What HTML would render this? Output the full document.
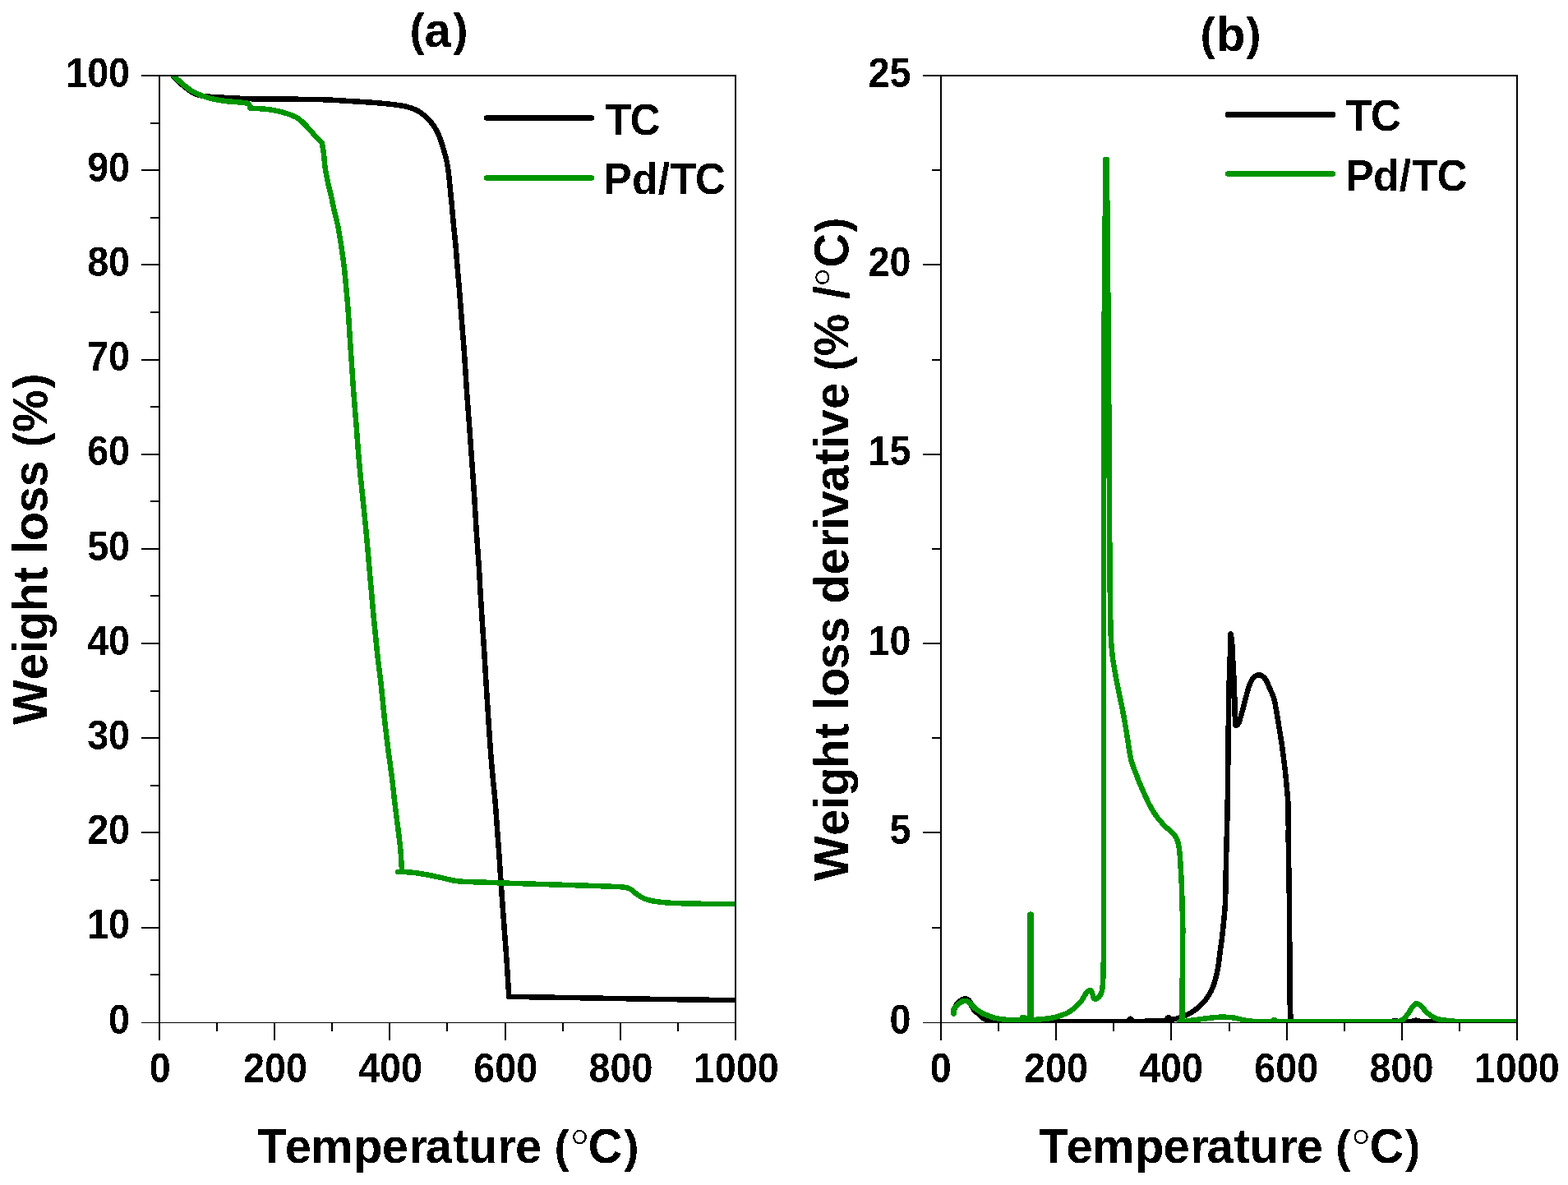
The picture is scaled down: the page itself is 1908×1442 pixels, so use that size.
<!DOCTYPE html>
<html lang="en"><head><meta charset="utf-8"><title>TGA and DTG curves of TC and Pd/TC</title>
<style>
html,body{margin:0;padding:0;background:#fff;}
body{width:1908px;height:1442px;overflow:hidden;}
svg{display:block;}
text{font-family:"Liberation Sans",Arial,Helvetica,sans-serif;font-weight:bold;fill:#000;font-kerning:none;}
.tk{font-size:46.7px;}
.lg{font-size:51.4px;}
.ti{font-size:58px;}
.ax{font-size:58px;}
.deg{font-family:"Noto Serif CJK SC","Liberation Serif",serif;font-weight:normal;font-size:64px;}
.pr{font-size:54.9px;}
.crv{shape-rendering:crispEdges;fill:none;stroke-width:6.5;stroke-linejoin:round;stroke-linecap:round;}
.axl{fill:#000;shape-rendering:crispEdges;}
</style></head><body>
<svg width="1908" height="1442" viewBox="0 0 1908 1442">
<rect width="1908" height="1442" fill="#fff"/>
<defs>
<clipPath id="ca"><rect x="195" y="93" width="699" height="1151"/></clipPath>
<clipPath id="cb"><rect x="1146" y="93" width="699" height="1151"/></clipPath>
<filter id="bin" filterUnits="userSpaceOnUse" x="0" y="0" width="1908" height="1442" color-interpolation-filters="sRGB"><feComponentTransfer><feFuncA type="discrete" tableValues="0 1"/></feComponentTransfer></filter>
</defs>
<g id="figure" filter="url(#bin)">
<g id="plot-a">
<g clip-path="url(#ca)">
<path class="crv" stroke="#000" d="M210.8,92.8C214.5,96.3 218.0,100.1 221.9,103.4C225.2,106.2 228.6,108.9 232.2,111.3C234.3,112.7 236.6,113.9 239.0,114.8C241.2,115.7 243.6,116.2 246.0,116.6C248.6,117.1 251.3,117.4 254.0,117.6C262.0,118.2 270.0,118.6 278.0,119.0C286.4,119.4 294.8,120.0 303.2,120.2C315.8,120.5 328.3,120.5 340.9,120.6C353.5,120.7 366.1,120.7 378.7,120.9C385.8,121.0 392.9,121.2 400.0,121.5C408.4,121.9 416.8,122.5 425.2,123.0C433.6,123.5 441.9,124.0 450.3,124.6C458.7,125.2 467.1,125.8 475.5,126.8C481.8,127.5 488.1,128.3 494.3,129.7C498.6,130.7 502.9,132.1 506.9,134.1C510.6,135.9 513.9,138.3 517.0,141.0C520.3,143.8 523.2,147.0 525.8,150.4C528.2,153.5 530.3,156.9 532.1,160.5C534.1,164.5 535.6,168.8 537.1,173.1C538.5,177.2 539.7,181.4 540.9,185.6C542.0,189.8 543.2,194.0 544.0,198.2C544.8,202.4 545.4,206.6 545.9,210.8C546.4,215.0 546.8,219.2 547.2,223.4C547.6,227.6 548.0,231.7 548.4,235.9C548.8,240.1 549.3,244.3 549.7,248.5C550.5,257.4 551.3,266.3 552.1,275.2C552.9,283.6 553.9,291.9 554.6,300.3C555.4,308.7 555.9,317.1 556.6,325.5C557.3,333.9 558.1,342.2 558.8,350.6C559.5,359.0 560.1,367.4 560.8,375.8C561.4,384.2 562.1,392.5 562.7,400.9C563.4,409.3 564.1,417.7 564.7,426.1C565.3,434.5 565.8,442.9 566.4,451.3C566.9,459.7 567.4,468.0 568.0,476.4C569.1,491.6 570.3,506.7 571.4,521.9C572.4,535.9 573.4,549.9 574.4,563.9C575.4,577.9 576.4,591.8 577.3,605.8C578.2,619.8 578.9,633.7 579.8,647.7C580.7,661.7 581.9,675.6 582.8,689.6C583.5,699.7 583.9,709.7 584.5,719.8C585.1,730.5 585.8,741.2 586.5,751.9C587.4,765.9 588.4,779.9 589.3,793.9C590.2,807.9 590.9,821.8 591.8,835.8C592.7,849.8 593.6,863.7 594.5,877.7C595.4,891.7 596.3,905.6 597.4,919.6C598.0,928.1 598.8,936.5 599.6,945.0C600.5,954.5 601.6,964.0 602.4,973.5C603.4,984.7 604.1,995.9 604.9,1007.1C605.7,1018.3 606.6,1029.4 607.4,1040.6C608.2,1051.8 608.8,1063.0 609.6,1074.2C610.4,1085.4 611.2,1096.5 612.0,1107.7C612.8,1118.9 613.7,1130.1 614.5,1141.3C615.3,1152.3 616.2,1163.2 616.9,1174.2C617.8,1187.1 618.5,1200.0 619.3,1212.9C628.6,1213.0 637.8,1213.2 647.1,1213.3C669.5,1213.7 691.8,1214.0 714.2,1214.4C736.6,1214.8 758.9,1215.2 781.3,1215.6C803.6,1216.0 826.0,1216.3 848.3,1216.6C863.9,1216.8 879.4,1216.9 895.0,1217.1"/>
<path class="crv" stroke="#009500" d="M211.4,92.5C215.2,95.9 218.8,99.4 222.7,102.6C226.0,105.3 229.2,108.1 232.8,110.3C235.9,112.3 239.4,113.8 242.8,115.2C246.9,116.9 251.1,118.5 255.4,119.6C260.8,121.0 266.3,121.9 271.8,122.7C277.2,123.5 282.7,123.7 288.1,124.2C292.5,124.6 296.8,125.1 301.2,125.6C302.1,126.5 303.2,127.3 303.8,128.4C304.3,129.4 304.1,130.5 304.3,131.6C308.1,131.8 312.0,131.9 315.8,132.2C320.0,132.5 324.2,132.8 328.4,133.4C332.6,134.0 336.8,134.9 340.9,135.9C345.2,137.0 349.4,138.1 353.5,139.7C357.0,141.1 360.5,142.5 363.6,144.7C366.9,147.0 369.6,150.0 372.4,152.9C375.9,156.5 379.1,160.5 382.5,164.2C385.6,167.6 388.8,170.9 391.9,174.3C392.5,178.1 393.3,181.8 393.8,185.6C394.6,191.9 394.8,198.2 395.7,204.5C396.5,210.0 397.6,215.4 398.8,220.8C400.3,228.0 402.2,235.0 403.8,242.2C404.4,244.8 404.7,247.4 405.3,250.0C407.2,258.4 409.5,266.7 411.2,275.2C412.9,283.5 414.1,291.9 415.4,300.3C416.7,308.7 417.8,317.1 418.8,325.5C419.8,333.9 420.5,342.2 421.3,350.6C422.1,359.0 422.9,367.4 423.5,375.8C424.1,384.2 424.6,392.5 425.1,400.9C425.7,409.3 426.2,417.7 426.8,426.1C427.4,434.5 427.9,442.9 428.5,451.3C429.1,459.7 429.6,468.0 430.2,476.4C431.4,491.6 432.7,506.7 433.9,521.9C435.0,535.9 435.9,549.9 437.2,563.9C438.4,577.9 440.0,591.8 441.4,605.8C442.8,619.8 444.3,633.7 445.6,647.7C446.9,661.7 448.1,675.6 449.3,689.6C450.0,698.1 450.8,706.5 451.5,715.0C452.6,727.3 453.6,739.6 454.8,751.9C456.1,765.9 457.5,779.9 459.0,793.9C460.5,807.9 462.5,821.8 464.0,835.8C465.5,849.8 466.7,863.7 468.2,877.7C469.8,891.7 471.5,905.6 473.3,919.6C474.4,928.1 475.7,936.5 476.8,945.0C478.0,954.5 478.9,964.0 480.0,973.5C481.3,984.7 482.8,995.9 484.2,1007.1C485.2,1015.5 486.4,1023.8 487.2,1032.2C488.0,1040.6 488.3,1049.0 488.9,1057.4L489.0,1060.6L484.3,1060.9L489.0,1061.0C493.0,1061.2 497.0,1061.2 500.9,1061.6C506.5,1062.2 512.1,1063.1 517.7,1064.1C523.3,1065.1 528.9,1066.3 534.5,1067.5C541.8,1069.0 548.9,1071.3 556.3,1072.2C565.7,1073.3 575.3,1073.1 584.8,1073.5C596.0,1074.0 607.1,1074.3 618.3,1074.7C627.9,1075.0 637.5,1075.3 647.1,1075.6C669.5,1076.3 691.8,1077.0 714.2,1077.7C725.4,1078.1 736.5,1078.4 747.7,1078.9C752.2,1079.1 756.7,1079.2 761.1,1079.9C763.4,1080.3 765.8,1081.1 767.8,1082.3C770.3,1083.8 772.2,1086.1 774.5,1087.8C776.7,1089.4 778.9,1091.1 781.3,1092.3C783.9,1093.6 786.8,1094.5 789.6,1095.3C792.3,1096.1 795.2,1096.6 798.0,1097.0C803.6,1097.8 809.2,1098.4 814.8,1098.7C826.0,1099.3 837.1,1099.5 848.3,1099.7C863.9,1100.0 879.4,1099.9 895.0,1100.0"/>
</g>
<rect class="axl" x="193" y="91" width="2" height="1175"/>
<rect class="axl" x="894" y="91" width="2" height="1175"/>
<rect class="axl" x="172" y="91" width="724" height="2"/>
<rect class="axl" x="172" y="1244" width="724" height="1"/>
<rect class="axl" x="263" y="1245" width="2" height="10"/>
<rect class="axl" x="333" y="1245" width="2" height="21"/>
<rect class="axl" x="403" y="1245" width="2" height="10"/>
<rect class="axl" x="473" y="1245" width="2" height="21"/>
<rect class="axl" x="543" y="1245" width="2" height="10"/>
<rect class="axl" x="614" y="1245" width="2" height="21"/>
<rect class="axl" x="684" y="1245" width="2" height="10"/>
<rect class="axl" x="754" y="1245" width="2" height="21"/>
<rect class="axl" x="824" y="1245" width="2" height="10"/>
<rect class="axl" x="183" y="1185" width="10" height="2"/>
<rect class="axl" x="172" y="1128" width="21" height="2"/>
<rect class="axl" x="183" y="1070" width="10" height="2"/>
<rect class="axl" x="172" y="1012" width="21" height="2"/>
<rect class="axl" x="183" y="955" width="10" height="2"/>
<rect class="axl" x="172" y="897" width="21" height="2"/>
<rect class="axl" x="183" y="840" width="10" height="2"/>
<rect class="axl" x="172" y="782" width="21" height="2"/>
<rect class="axl" x="183" y="724" width="10" height="2"/>
<rect class="axl" x="172" y="667" width="21" height="2"/>
<rect class="axl" x="183" y="609" width="10" height="2"/>
<rect class="axl" x="172" y="552" width="21" height="2"/>
<rect class="axl" x="183" y="494" width="10" height="2"/>
<rect class="axl" x="172" y="437" width="21" height="2"/>
<rect class="axl" x="183" y="379" width="10" height="2"/>
<rect class="axl" x="172" y="321" width="21" height="2"/>
<rect class="axl" x="183" y="264" width="10" height="2"/>
<rect class="axl" x="172" y="206" width="21" height="2"/>
<rect class="axl" x="183" y="149" width="10" height="2"/>
<text class="tk" transform="translate(158.1,1257.5) scale(1,1.05)" text-anchor="end">0</text>
<text class="tk" transform="translate(158.1,1142.3) scale(1,1.05)" text-anchor="end">10</text>
<text class="tk" transform="translate(158.1,1027.1) scale(1,1.05)" text-anchor="end">20</text>
<text class="tk" transform="translate(158.1,911.9) scale(1,1.05)" text-anchor="end">30</text>
<text class="tk" transform="translate(158.1,796.7) scale(1,1.05)" text-anchor="end">40</text>
<text class="tk" transform="translate(158.1,681.5) scale(1,1.05)" text-anchor="end">50</text>
<text class="tk" transform="translate(158.1,566.3) scale(1,1.05)" text-anchor="end">60</text>
<text class="tk" transform="translate(158.1,451.1) scale(1,1.05)" text-anchor="end">70</text>
<text class="tk" transform="translate(158.1,335.9) scale(1,1.05)" text-anchor="end">80</text>
<text class="tk" transform="translate(158.1,220.7) scale(1,1.05)" text-anchor="end">90</text>
<text class="tk" transform="translate(158.1,105.5) scale(1,1.05)" text-anchor="end">100</text>
<text class="tk" transform="translate(194.7,1316.6) scale(1,1.05)" text-anchor="middle">0</text>
<text class="tk" transform="translate(334.9,1316.6) scale(1,1.05)" text-anchor="middle">200</text>
<text class="tk" transform="translate(475.1,1316.6) scale(1,1.05)" text-anchor="middle">400</text>
<text class="tk" transform="translate(615.3,1316.6) scale(1,1.05)" text-anchor="middle">600</text>
<text class="tk" transform="translate(755.5,1316.6) scale(1,1.05)" text-anchor="middle">800</text>
<text class="tk" transform="translate(895.7,1316.6) scale(1,1.05)" text-anchor="middle">1000</text>
<text class="ti" transform="translate(0,56.5) scale(1,1.015)"><tspan class="pr" x="498.6" y="-1.7">(</tspan><tspan x="516.6" y="0">a</tspan><tspan class="pr" x="551.2" y="-1.7">)</tspan></text>
<text class="ax" transform="translate(0.0,1415.3) scale(1,1.015)"><tspan x="313.2 346.7 378.1 430.1 464.8 497.7 517.8 550.9 569.9 605.6 626.9 636.9" y="0">Temperature </tspan><tspan class="pr" x="674.5" y="-1.4">(</tspan><tspan class="deg" x="694.5" y="7.7">°</tspan><tspan x="715.6" y="0">C</tspan><tspan class="pr" x="759.2" y="-1.4">)</tspan></text>
<text class="ax" transform="translate(57.2,881.0) rotate(-90) scale(1,1.015)"><tspan x="-1.0 53.7 86.1 101.5 136.6 171.9 181.9 207.1 222.8 257.1 288.4 298.4" y="0">Weight loss </tspan><tspan class="pr" x="336.7" y="-1.4">(</tspan><tspan x="354.9" y="0">%</tspan><tspan class="pr" x="408.2" y="-1.4">)</tspan></text>
<line x1="592" y1="143.5" x2="720" y2="143.5" stroke="#000" stroke-width="6.6" stroke-linecap="round"/>
<line x1="592" y1="216.5" x2="720" y2="216.5" stroke="#009500" stroke-width="6.6" stroke-linecap="round"/>
<text class="lg" transform="translate(0,164.0) scale(1,1.04)" x="736.8 766.6" y="0">TC</text>
<text class="lg" transform="translate(0,235.9) scale(1,1.04)" x="734.6 769.0 800.8 815.8 845.8" y="0">Pd/TC</text>
</g>
<g id="plot-b">
<g clip-path="url(#cb)">
<path class="crv" stroke="#000" d="M1161.3,1228.5C1162.0,1226.7 1162.5,1224.9 1163.5,1223.2C1164.3,1221.9 1165.4,1220.7 1166.5,1219.6C1167.7,1218.5 1168.9,1217.4 1170.3,1216.6C1171.6,1215.9 1173.1,1215.2 1174.6,1215.2C1175.8,1215.2 1177.0,1215.9 1178.0,1216.6C1179.1,1217.4 1179.9,1218.4 1180.6,1219.5C1181.4,1220.8 1181.6,1222.3 1182.2,1223.6C1183.2,1225.6 1184.1,1227.7 1185.5,1229.5C1186.5,1230.8 1188.2,1231.6 1189.4,1232.7C1190.9,1234.0 1192.1,1235.6 1193.6,1236.9C1194.8,1237.9 1196.0,1238.9 1197.4,1239.7C1198.7,1240.5 1200.1,1241.1 1201.6,1241.5C1203.7,1242.1 1205.8,1242.7 1207.9,1242.8C1221.9,1243.3 1236.0,1243.2 1250.0,1243.3C1266.7,1243.4 1283.3,1243.3 1300.0,1243.3C1313.3,1243.3 1326.7,1243.2 1340.0,1243.2C1353.3,1243.1 1366.7,1243.1 1380.0,1243.0C1386.7,1242.9 1393.3,1242.8 1400.0,1242.6C1405.0,1242.5 1410.0,1242.3 1415.0,1242.0C1418.0,1241.8 1421.0,1241.4 1424.0,1241.0C1426.7,1240.6 1429.5,1240.4 1432.1,1239.6C1436.4,1238.3 1440.6,1236.5 1444.7,1234.6C1447.8,1233.2 1450.8,1231.6 1453.5,1229.6C1457.1,1227.0 1460.5,1224.0 1463.5,1220.8C1466.4,1217.7 1468.9,1214.3 1471.1,1210.7C1473.1,1207.5 1474.7,1204.1 1476.1,1200.6C1477.7,1196.5 1478.8,1192.3 1479.9,1188.1C1480.9,1183.9 1481.7,1179.7 1482.4,1175.5C1483.4,1169.2 1484.1,1162.9 1484.9,1156.6C1485.7,1150.3 1486.7,1144.0 1487.4,1137.7C1488.1,1131.4 1488.7,1125.2 1489.3,1118.9C1489.9,1112.6 1490.7,1106.3 1490.9,1100.0C1491.6,1082.4 1491.6,1064.7 1492.0,1047.1C1492.3,1035.9 1492.6,1024.7 1492.9,1013.5C1493.2,1002.3 1493.5,991.2 1493.7,980.0C1494.1,955.9 1494.2,931.8 1494.5,907.7C1494.8,885.3 1494.9,863.0 1495.4,840.6C1495.8,823.8 1496.5,807.1 1497.1,790.3C1497.3,784.4 1496.8,766.9 1497.9,772.7C1500.1,784.0 1499.7,795.6 1500.4,807.1C1501.1,818.3 1501.7,829.4 1502.1,840.6C1502.5,851.8 1502.2,863.0 1502.9,874.2C1503.1,877.1 1501.8,883.3 1504.6,882.6C1508.2,881.7 1508.3,876.0 1509.6,872.5C1511.7,866.5 1513.0,860.2 1514.7,854.0C1516.4,847.9 1517.6,841.6 1519.7,835.6C1520.9,832.1 1522.2,828.3 1524.7,825.5C1526.6,823.3 1529.4,821.1 1532.3,821.3C1535.3,821.5 1537.9,824.0 1539.8,826.4C1542.3,829.6 1543.3,833.6 1544.9,837.3C1546.6,841.2 1548.7,844.9 1549.9,849.0C1551.5,854.5 1552.3,860.2 1553.3,865.8C1554.5,872.5 1555.5,879.2 1556.6,885.9C1557.8,893.2 1559.0,900.4 1560.0,907.7C1561.2,916.1 1562.3,924.5 1563.3,932.9C1564.3,941.3 1565.1,949.6 1565.8,958.0C1566.5,965.3 1567.3,972.5 1567.5,979.8C1568.0,996.6 1567.6,1013.5 1567.8,1030.3C1568.0,1047.1 1568.5,1063.8 1568.7,1080.6C1568.9,1097.4 1569.1,1114.1 1569.2,1130.9C1569.4,1160.5 1569.3,1190.2 1569.7,1219.8C1569.8,1227.6 1570.4,1235.4 1570.8,1243.2C1613.9,1243.2 1656.9,1243.2 1700.0,1243.2C1748.7,1243.2 1797.3,1243.2 1846.0,1243.2M1372.5,1242.5C1373.5,1241.5 1374.1,1239.6 1375.5,1239.6C1376.9,1239.6 1377.5,1241.5 1378.5,1242.5M1419.0,1241.5C1420.0,1240.3 1420.5,1238.1 1422.0,1238.0C1423.4,1237.9 1424.0,1240.0 1425.0,1241.0M1695.0,1242.6C1695.8,1242.4 1696.6,1242.0 1697.5,1242.0C1698.4,1242.0 1699.2,1242.4 1700.0,1242.6M1719.0,1242.6C1720.3,1242.3 1721.6,1241.6 1723.0,1241.6C1724.4,1241.6 1725.7,1242.3 1727.0,1242.6"/>
<path class="crv" stroke="#009500" d="M1160.5,1233.7L1160.5,1228.2C1161.5,1227.0 1162.4,1225.7 1163.4,1224.6C1164.6,1223.3 1165.8,1222.1 1167.2,1221.0C1168.4,1220.1 1169.8,1219.2 1171.2,1218.6C1172.3,1218.2 1173.6,1217.9 1174.8,1218.0C1176.1,1218.1 1177.5,1218.6 1178.6,1219.4C1180.2,1220.5 1181.3,1222.0 1182.7,1223.3C1184.1,1224.6 1185.4,1226.1 1186.9,1227.3C1188.2,1228.4 1189.7,1229.3 1191.1,1230.3C1192.5,1231.2 1193.8,1232.1 1195.3,1232.9C1196.7,1233.6 1198.1,1234.2 1199.5,1234.8C1202.3,1235.9 1205.0,1237.1 1207.9,1238.0C1210.6,1238.8 1213.5,1239.4 1216.3,1239.9C1219.1,1240.4 1221.9,1240.6 1224.7,1240.8C1230.0,1241.1 1235.3,1241.4 1240.6,1241.5C1243.1,1241.6 1245.7,1241.5 1248.2,1241.4C1249.7,1241.3 1252.5,1242.5 1252.6,1241.0C1254.3,1198.4 1252.5,1155.7 1253.2,1113.0C1253.2,1112.5 1254.6,1112.5 1254.6,1113.0C1255.3,1155.7 1253.6,1198.4 1255.2,1241.0C1255.3,1242.4 1258.1,1241.0 1259.5,1240.9C1265.8,1240.4 1272.2,1240.0 1278.4,1239.0C1282.6,1238.3 1286.8,1237.2 1290.9,1235.8C1294.4,1234.6 1297.8,1233.3 1301.0,1231.4C1304.2,1229.5 1307.0,1227.0 1309.8,1224.5C1312.1,1222.4 1314.2,1220.1 1316.1,1217.6C1318.0,1215.0 1319.1,1211.9 1321.1,1209.4C1322.5,1207.6 1324.0,1205.0 1326.2,1205.0C1328.0,1205.0 1328.5,1207.8 1329.3,1209.4C1330.2,1211.2 1330.2,1213.4 1331.2,1215.1C1331.5,1215.7 1332.5,1215.9 1333.1,1215.7C1334.7,1215.2 1336.4,1214.5 1337.5,1213.2C1339.0,1211.4 1339.9,1209.1 1340.6,1206.9C1341.4,1204.1 1341.7,1201.1 1341.9,1198.1C1342.5,1188.5 1342.7,1178.8 1342.8,1169.2C1343.1,1146.1 1343.1,1123.1 1343.1,1100.0C1343.2,966.7 1343.2,833.3 1343.2,700.0C1343.2,618.3 1342.9,536.7 1343.2,455.0C1343.4,403.3 1344.1,351.7 1344.5,300.0C1344.8,264.7 1345.0,229.5 1345.2,194.2L1346.8,194.2C1347.5,273.1 1348.3,352.1 1348.9,431.0C1349.3,478.0 1349.4,525.0 1349.7,572.0C1350.0,617.3 1350.2,662.7 1350.6,708.0C1350.7,718.7 1350.9,729.3 1351.1,740.0C1351.3,751.2 1351.2,762.3 1351.7,773.5C1352.1,781.9 1352.7,790.3 1353.7,798.7C1354.7,807.2 1356.4,815.5 1357.9,823.9C1359.4,832.3 1361.2,840.6 1362.9,849.0C1364.6,857.4 1366.4,865.8 1367.9,874.2C1369.4,882.5 1370.7,890.9 1372.1,899.3C1373.5,907.7 1374.3,916.2 1376.3,924.5C1377.7,930.3 1380.1,935.7 1382.2,941.3C1384.3,946.9 1386.5,952.5 1388.9,958.0C1392.1,965.3 1395.3,972.7 1399.0,979.8C1401.4,984.5 1404.2,989.1 1407.3,993.4C1410.3,997.6 1413.8,1001.5 1417.4,1005.2C1420.0,1007.9 1423.2,1010.0 1425.8,1012.7C1428.0,1015.0 1430.4,1017.3 1431.7,1020.2C1433.6,1024.4 1434.4,1029.1 1435.0,1033.7C1436.0,1040.9 1436.2,1048.2 1436.7,1055.5C1437.2,1063.9 1437.7,1072.2 1438.0,1080.6C1438.4,1091.8 1438.6,1103.0 1438.9,1114.2C1439.0,1119.8 1439.3,1125.3 1439.3,1130.9C1439.3,1142.1 1439.1,1153.3 1439.0,1164.5C1438.8,1182.9 1438.7,1201.4 1438.5,1219.8C1438.4,1227.4 1438.4,1235.0 1438.3,1242.6L1434.9,1243.6L1442.0,1243.1C1443.4,1242.8 1444.7,1242.3 1446.1,1242.1C1448.9,1241.7 1451.7,1241.6 1454.5,1241.2C1458.7,1240.7 1462.9,1239.9 1467.1,1239.4C1471.3,1238.9 1475.5,1238.4 1479.7,1238.0C1482.1,1237.8 1484.6,1237.5 1487.0,1237.6C1491.8,1237.7 1496.6,1237.8 1501.3,1238.5C1505.5,1239.1 1509.6,1240.6 1513.8,1241.4C1518.0,1242.1 1522.2,1242.8 1526.4,1243.0C1532.9,1243.4 1539.5,1243.2 1546.0,1243.2C1597.3,1243.3 1648.7,1244.0 1700.0,1243.2C1702.5,1243.2 1705.0,1242.1 1707.0,1240.7C1709.7,1238.8 1711.6,1236.0 1713.6,1233.4C1715.6,1230.8 1716.9,1227.7 1718.9,1225.0C1719.9,1223.7 1720.9,1222.3 1722.3,1221.6C1723.2,1221.1 1724.5,1221.2 1725.4,1221.6C1727.2,1222.4 1728.8,1223.6 1730.2,1225.0C1731.8,1226.5 1732.8,1228.6 1734.4,1230.2C1736.3,1232.1 1738.3,1234.0 1740.5,1235.5C1743.2,1237.3 1746.0,1239.0 1749.1,1239.9C1754.2,1241.3 1759.5,1241.8 1764.8,1242.4C1769.8,1242.9 1774.9,1243.2 1780.0,1243.2C1802.0,1243.4 1824.0,1243.2 1846.0,1243.2M1242.2,1241.2C1243.1,1240.1 1243.5,1237.8 1245.0,1237.8C1246.5,1237.8 1246.9,1240.1 1247.8,1241.2M1548.6,1242.8C1549.3,1242.1 1549.8,1240.8 1550.8,1240.8C1551.8,1240.8 1552.3,1242.1 1553.0,1242.8"/>
</g>
<rect class="axl" x="1144" y="91" width="2" height="1175"/>
<rect class="axl" x="1845" y="91" width="2" height="1175"/>
<rect class="axl" x="1123" y="91" width="724" height="2"/>
<rect class="axl" x="1123" y="1244" width="724" height="1"/>
<rect class="axl" x="1214" y="1245" width="2" height="10"/>
<rect class="axl" x="1284" y="1245" width="2" height="21"/>
<rect class="axl" x="1354" y="1245" width="2" height="10"/>
<rect class="axl" x="1424" y="1245" width="2" height="21"/>
<rect class="axl" x="1495" y="1245" width="2" height="10"/>
<rect class="axl" x="1565" y="1245" width="2" height="21"/>
<rect class="axl" x="1635" y="1245" width="2" height="10"/>
<rect class="axl" x="1705" y="1245" width="2" height="21"/>
<rect class="axl" x="1775" y="1245" width="2" height="10"/>
<rect class="axl" x="1134" y="1128" width="10" height="2"/>
<rect class="axl" x="1123" y="1012" width="21" height="2"/>
<rect class="axl" x="1134" y="897" width="10" height="2"/>
<rect class="axl" x="1123" y="782" width="21" height="2"/>
<rect class="axl" x="1134" y="667" width="10" height="2"/>
<rect class="axl" x="1123" y="552" width="21" height="2"/>
<rect class="axl" x="1134" y="437" width="10" height="2"/>
<rect class="axl" x="1123" y="321" width="21" height="2"/>
<rect class="axl" x="1134" y="206" width="10" height="2"/>
<text class="tk" transform="translate(1108.4,1257.5) scale(1,1.05)" text-anchor="end">0</text>
<text class="tk" transform="translate(1108.4,1027.1) scale(1,1.05)" text-anchor="end">5</text>
<text class="tk" transform="translate(1108.4,796.7) scale(1,1.05)" text-anchor="end">10</text>
<text class="tk" transform="translate(1108.4,566.3) scale(1,1.05)" text-anchor="end">15</text>
<text class="tk" transform="translate(1108.4,335.9) scale(1,1.05)" text-anchor="end">20</text>
<text class="tk" transform="translate(1108.4,105.5) scale(1,1.05)" text-anchor="end">25</text>
<text class="tk" transform="translate(1144.7,1316.6) scale(1,1.05)" text-anchor="middle">0</text>
<text class="tk" transform="translate(1284.9,1316.6) scale(1,1.05)" text-anchor="middle">200</text>
<text class="tk" transform="translate(1425.1,1316.6) scale(1,1.05)" text-anchor="middle">400</text>
<text class="tk" transform="translate(1565.3,1316.6) scale(1,1.05)" text-anchor="middle">600</text>
<text class="tk" transform="translate(1705.5,1316.6) scale(1,1.05)" text-anchor="middle">800</text>
<text class="tk" transform="translate(1845.7,1316.6) scale(1,1.05)" text-anchor="middle">1000</text>
<text class="ti" transform="translate(0,61.6) scale(1,1.015)"><tspan class="pr" x="1460.6" y="-1.7">(</tspan><tspan x="1480.1" y="0">b</tspan><tspan class="pr" x="1516.2" y="-1.7">)</tspan></text>
<text class="ax" transform="translate(950.8,1415.3) scale(1,1.015)"><tspan x="313.2 346.7 378.1 430.1 464.8 497.7 517.8 550.9 569.9 605.6 626.9 636.9" y="0">Temperature </tspan><tspan class="pr" x="674.5" y="-1.4">(</tspan><tspan class="deg" x="694.5" y="7.7">°</tspan><tspan x="715.6" y="0">C</tspan><tspan class="pr" x="759.2" y="-1.4">)</tspan></text>
<text class="ax" transform="translate(1032.3,1070.8) rotate(-90) scale(1,1.015)"><tspan x="-0.9 53.9 85.7 101.9 136.2 171.7 181.7 206.8 223.0 256.6 287.9 297.9 336.2 371.5 404.6 425.5 441.2 472.5 505.5 524.9 540.2 572.9 582.9" y="0">Weight loss derivative </tspan><tspan class="pr" x="619.4" y="-1.4">(</tspan><tspan x="637.6 647.6 706.7" y="0">% /</tspan><tspan class="deg" x="722.5" y="7.7">°</tspan><tspan x="745.2" y="0">C</tspan><tspan class="pr" x="788.0" y="-1.4">)</tspan></text>
<line x1="1494.3" y1="139.4" x2="1621.7" y2="139.4" stroke="#000" stroke-width="7" stroke-linecap="round"/>
<line x1="1494" y1="211.5" x2="1622" y2="211.5" stroke="#009500" stroke-width="6.6" stroke-linecap="round"/>
<text class="lg" transform="translate(0,159.0) scale(1,1.04)" x="1637.8 1667.7" y="0">TC</text>
<text class="lg" transform="translate(0,232.0) scale(1,1.04)" x="1637.5 1670.9 1702.8 1717.9 1748.4" y="0">Pd/TC</text>
</g>
</g>
</svg></body></html>
